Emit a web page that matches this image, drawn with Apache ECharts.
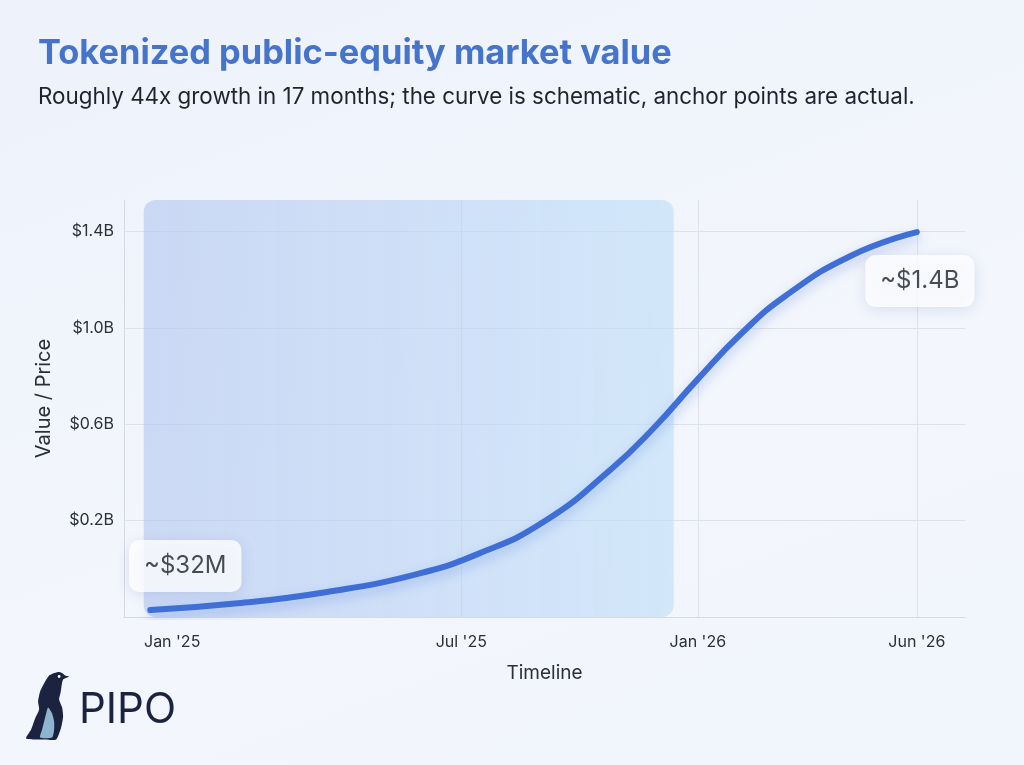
<!DOCTYPE html>
<html>
<head>
<meta charset="utf-8">
<script src="https://cdn.jsdelivr.net/npm/echarts@6/dist/echarts.min.js"></script>
<style>
html, body { margin: 0; padding: 0; }
body { background: linear-gradient(160deg, #edf2fb 0%, #f3f6fc 60%, #f1f5fc 100%); }
#chart { width: 1024px; height: 765px; }
</style>
</head>
<body>
<div id="chart"></div>
<script>
// schematic curve: months from Jan '25, value in $B
const curveMonths = [-0.5, 1.5, 3.5, 5.5, 7.0, 8.5, 10.0, 11.0, 12.0, 13.0, 14.0, 15.5, 17.0];
const curveValues = [-0.171, -0.143, -0.097, -0.026, 0.063, 0.197, 0.41, 0.585, 0.787, 0.977, 1.132, 1.299, 1.397];

// anchor labels (first and last point of the curve)
const anchorText = ["~$32M", "~$1.4B"];

// axis ticks
const xTickMonths = [0, 6.6, 12, 17];
const xTickLabels = ["Jan '25", "Jul '25", "Jan '26", "Jun '26"];
const yTicks = [0.2, 0.6, 1.0, 1.4];

// highlighted period (months)
const shadeRange = [-0.65, 11.45];

const xMin = -1.1, xMax = 18.1;
const yMin = -0.2, yMax = 1.53;

const textColor = "#2a2f3a";
const gridColor = "#dde1e8";

const chart = echarts.init(document.getElementById("chart"));

const lastIdx = curveMonths.length - 1;

// logo outline (local coordinates)
const penguinBody = [[30,2],[35,0.5],[39,1.5],[42,4],[46,5],[40,8],[38.5,14],[37.5,21],[36,28],[39,36],[40,45],[38,56],[33,68],[22,68],[3,67],[8,58],[12,47],[16,38],[15,30],[17,20],[22,10],[26,4]];
const penguinBelly = [[25,36],[29,42],[31,50],[31,58],[29,66],[17,66],[19,58],[21,50],[23,42]];

const option = {
  title: [
    {
      text: "Tokenized public-equity market value",
      left: 33,
      top: 32,
      textStyle: { fontFamily: "Inter", fontSize: 34.4, fontWeight: "bold", color: "#4674cb" },
    },
    {
      text: "Roughly 44x growth in 17 months; the curve is schematic, anchor points are actual.",
      left: 33,
      top: 81,
      textStyle: { fontFamily: "Inter", fontSize: 22.4, fontWeight: "normal", color: "#1e2330" },
    },
  ],
  grid: { left: 124, right: 59, top: 200, bottom: 148 },
  xAxis: {
    type: "value",
    min: xMin,
    max: xMax,
    name: "Timeline",
    nameLocation: "middle",
    nameGap: 47,
    nameTextStyle: { fontFamily: "Inter", fontSize: 19, color: textColor },
    axisLine: { show: true, onZero: false, lineStyle: { color: "#d6dae2", width: 1 } },
    axisTick: { show: false, customValues: xTickMonths.slice(1) },
    axisLabel: {
      customValues: xTickMonths,
      margin: 17,
      fontFamily: "Inter",
      fontSize: 16,
      color: textColor,
      formatter: (v) => {
        const i = xTickMonths.indexOf(v);
        return i >= 0 ? xTickLabels[i] : "";
      },
    },
    splitLine: { show: true, lineStyle: { color: gridColor } },
  },
  yAxis: {
    type: "value",
    min: yMin,
    max: yMax,
    name: "Value / Price",
    nameLocation: "middle",
    nameGap: 70,
    nameTextStyle: { fontFamily: "Inter", fontSize: 20, color: textColor, padding: [0, 0, 0, 20] },
    axisLine: { show: true, onZero: false, lineStyle: { color: "#d6dae2", width: 1 } },
    axisTick: { show: false, customValues: yTicks },
    axisLabel: {
      customValues: yTicks,
      margin: 10,
      fontFamily: "Inter",
      fontSize: 16,
      color: textColor,
      formatter: (v) => "$" + v.toFixed(1) + "B",
    },
    splitLine: { show: true, lineStyle: { color: gridColor } },
  },
  series: [
    {
      // shaded period
      type: "custom",
      silent: true,
      z: 1,
      data: [[shadeRange[0], shadeRange[1]]],
      renderItem: (params, api) => {
        const p0 = api.coord([api.value(0), yMax]);
        const p1 = api.coord([api.value(1), yMin]);
        return {
          type: "rect",
          shape: { x: p0[0], y: p0[1], width: p1[0] - p0[0], height: p1[1] - p0[1], r: 12 },
          style: {
            fill: {
              type: "linear",
              x: 0, y: 0, x2: 1, y2: 0,
              colorStops: [
                { offset: 0, color: "rgba(176,196,240,0.58)" },
                { offset: 1, color: "rgba(190,222,248,0.62)" },
              ],
            },
          },
        };
      },
    },
    {
      type: "line",
      z: 3,
      smooth: 0.5,
      showSymbol: false,
      silent: true,
      data: curveMonths.map((m, i) => [m, curveValues[i]]),
      lineStyle: {
        width: 6,
        color: "#3f6fd6",
        cap: "round",
        shadowBlur: 12,
        shadowColor: "rgba(63,111,214,0.35)",
        shadowOffsetY: 5,
      },
    },
    {
      // anchor point labels
      type: "scatter",
      z: 5,
      symbolSize: 0,
      silent: true,
      data: [
        {
          value: [curveMonths[0], curveValues[0]],
          label: { formatter: anchorText[0], offset: [35, -44] },
        },
        {
          value: [curveMonths[lastIdx], curveValues[lastIdx]],
          label: { formatter: anchorText[1], offset: [3, 49] },
        },
      ],
      label: {
        show: true,
        position: "inside",
        fontFamily: "Inter",
        fontSize: 24,
        color: "#1c202a",
        backgroundColor: "#ffffff",
        borderRadius: 10,
        padding: [14, 15],
        shadowBlur: 14,
        shadowColor: "rgba(40,70,140,0.16)",
        shadowOffsetY: 3,
      },
    },
  ],
  graphic: [
    {
      // penguin logo
      type: "group",
      left: 26,
      top: 672,
      children: [
        {
          type: "polygon",
          shape: { points: penguinBody, smooth: 0.2 },
          style: { fill: "#1c2340" },
        },
        {
          type: "polygon",
          shape: { points: penguinBelly, smooth: 0.2 },
          style: { fill: "#8fb4cf" },
        },
        {
          type: "circle",
          shape: { cx: 36, cy: 5, r: 1.4 },
          style: { fill: "#ffffff" },
        },
      ],
    },
    {
      type: "text",
      left: 79,
      top: 689,
      style: { text: "PIPO", fontFamily: "Inter", fontSize: 42, fontWeight: 400, fill: "#1c2340" },
    },
  ],
};

chart.setOption(option);
</script>
</body>
</html>
